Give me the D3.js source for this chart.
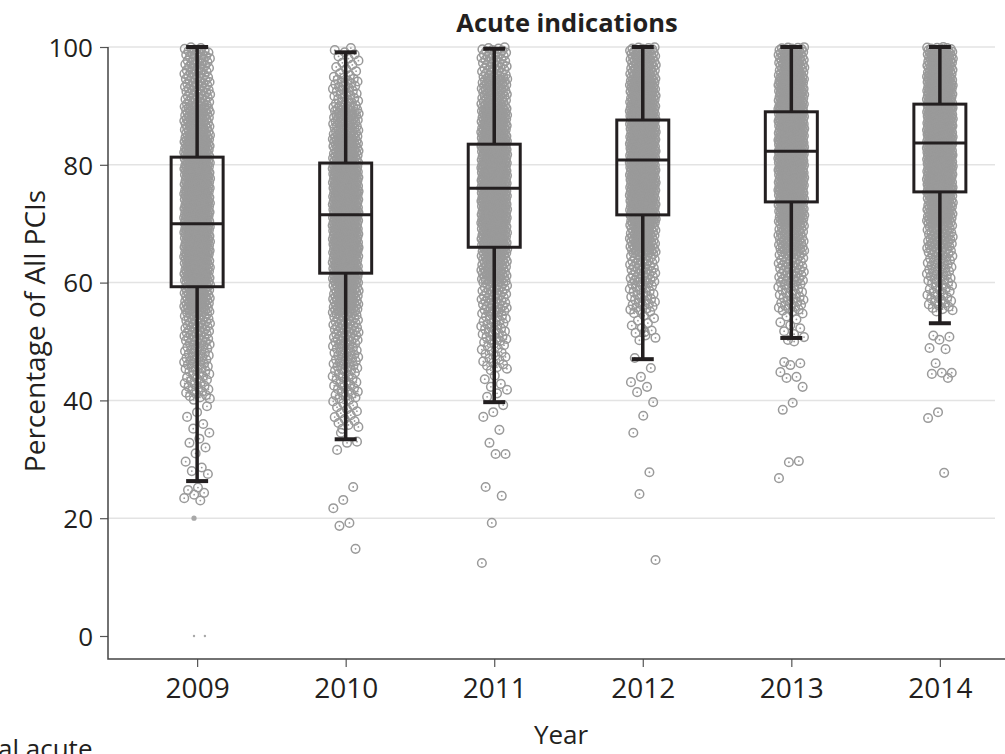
<!DOCTYPE html>
<html>
<head>
<meta charset="utf-8">
<script src="https://cdn.jsdelivr.net/npm/d3@7"></script>
<style>
    body { margin: 0; background: #fff; }
    text { font-family: "Open Sans", sans-serif; fill: #231f20; }
</style>
</head>
<body>
<svg id="chart" width="1005" height="754"></svg>
<script>

const years = [2009, 2010, 2011, 2012, 2013, 2014];
const yTicks = [0, 20, 40, 60, 80, 100];
const gridValues = [20, 40, 60, 80, 100];

// box plot stats per year
const whiskerLow  = [26.3, 33.4, 39.7, 47.0, 50.6, 53.1];
const q1          = [59.3, 61.6, 66.0, 71.5, 73.7, 75.4];
const medians     = [70.0, 71.5, 76.0, 80.8, 82.3, 83.7];
const q3          = [81.3, 80.3, 83.5, 87.6, 89.0, 90.3];
const whiskerHigh = [100, 99.1, 99.7, 100, 100, 100];

// dense part of each cloud: hospitals counted per 5-point band (lower edge of band)
const binEdges = [35, 40, 45, 50, 55, 60, 65, 70, 75, 80, 85, 90, 95];
const bins2009 = [0, 25, 35, 50, 75, 95, 110, 110, 105, 95, 70, 50, 40];
const bins2010 = [15, 25, 35, 50, 75, 100, 120, 125, 115, 85, 60, 32, 14];
const bins2011 = [0, 0, 20, 30, 45, 70, 100, 120, 130, 120, 95, 65, 45];
const bins2012 = [0, 0, 0, 12, 30, 45, 75, 110, 130, 140, 125, 95, 70];
const bins2013 = [0, 0, 0, 10, 30, 45, 65, 100, 130, 145, 135, 105, 80];
const bins2014 = [0, 0, 0, 0, 25, 35, 55, 90, 125, 145, 145, 115, 90];

// sparse points below each cloud, one value per hospital
const tail2009 = [39, 38, 37.2, 36, 35.2, 34.5, 33.5, 32.8, 32, 31, 29.6, 28.6, 28, 27.5, 25.2, 24.8, 24.3, 24, 23.4, 23];
const tail2010 = [34.5, 33, 32.8, 31.6, 25.3, 23.1, 21.7, 19.2, 18.7, 14.8];
const tail2011 = [44.2, 43.6, 42.8, 42.3, 41.8, 41.2, 40.6, 39.2, 38, 37.2, 35, 32.8, 30.9, 30.9, 25.3, 23.8, 19.2, 12.4];
const tail2012 = [51.6, 47.2, 45.5, 44, 43.1, 42.3, 41.4, 39.7, 37.4, 34.5, 27.8, 24.1, 12.9];
const tail2013 = [50, 46.5, 46.3, 46, 44.8, 44, 43.8, 42.3, 39.6, 38.4, 29.7, 29.5, 26.8];
const tail2014 = [51, 50.8, 50.3, 48.9, 48.7, 46.3, 44.7, 44.7, 44.5, 43.8, 38, 37, 27.7];

// very small marks (tiny hospitals)
const faint2009 = [20, 0, 0];

const bins = [bins2009, bins2010, bins2011, bins2012, bins2013, bins2014];
const tails = [tail2009, tail2010, tail2011, tail2012, tail2013, tail2014];
const faints = [faint2009, [], [], [], [], []];

const svg = d3.select('#chart');

const left = 108, bottom = 659;

const x = d3.scalePoint()
    .domain(years)
    .range([left, 1029])
    .padding(0.6);

const y = d3.scaleLinear()
    .domain([0, 100])
    .range([636, 47]);

const pointColor = '#9a9a9a';
const ink = '#231f20';

// grid
svg.append('g')
    .selectAll('line')
    .data(gridValues)
    .join('line')
    .attr('x1', left)
    .attr('x2', 995)
    .attr('y1', d => y(d))
    .attr('y2', d => y(d))
    .style('stroke', '#e3e3e3')
    .style('stroke-width', 1.5);

// build the point list: spread each band's count over its band, jitter sideways
const golden = 0.6180339887;
const points = [];
years.forEach(function (yr, i) {
    let idx = 0;
    binEdges.forEach(function (lo, b) {
        const n = bins[i][b];
        for (let k = 0; k < n; ++k) {
            points.push({year: yr, value: lo + 5 * (k + 0.5) / n, j: (idx++ * golden + 0.37) % 1});
        }
    });
    tails[i].forEach(function (v) {
        points.push({year: yr, value: v, j: (idx++ * golden + 0.37) % 1});
    });
});

const jitter = 13;

const dots = svg.append('g');

dots.selectAll('circle.pt')
    .data(points)
    .join('circle')
    .attr('class', 'pt')
    .attr('cx', d => x(d.year) + (d.j - 0.5) * 2 * jitter)
    .attr('cy', d => y(d.value))
    .attr('r', 4.3)
    .style('fill', 'none')
    .style('stroke', pointColor)
    .style('stroke-width', 1.5);

dots.selectAll('circle.ctr')
    .data(points)
    .join('circle')
    .attr('class', 'ctr')
    .attr('cx', d => x(d.year) + (d.j - 0.5) * 2 * jitter)
    .attr('cy', d => y(d.value))
    .attr('r', 0.9)
    .style('fill', pointColor);

const faintPoints = [];
years.forEach(function (yr, i) {
    faints[i].forEach(function (v, k) {
        faintPoints.push({year: yr, value: v, j: k === 2 ? 0.8 : 0.38});
    });
});

dots.selectAll('circle.faint')
    .data(faintPoints)
    .join('circle')
    .attr('class', 'faint')
    .attr('cx', d => x(d.year) + (d.j - 0.5) * 2 * jitter)
    .attr('cy', d => y(d.value))
    .attr('r', d => d.value > 0 ? 2.6 : 1.2)
    .style('fill', '#a8a8a8');

// boxes
const boxW = 52, capW = 22;
const boxes = svg.append('g')
    .selectAll('g')
    .data(years.map((yr, i) => ({year: yr, lo: whiskerLow[i], q1: q1[i], med: medians[i], q3: q3[i], hi: whiskerHigh[i]})))
    .join('g')
    .attr('transform', d => `translate(${x(d.year)},0)`)
    .style('stroke', ink);

boxes.append('line')
    .attr('y1', d => y(d.hi)).attr('y2', d => y(d.q3))
    .style('stroke-width', 3.5);
boxes.append('line')
    .attr('y1', d => y(d.q1)).attr('y2', d => y(d.lo))
    .style('stroke-width', 3.5);
boxes.append('line')
    .attr('x1', -capW / 2).attr('x2', capW / 2)
    .attr('y1', d => y(d.hi)).attr('y2', d => y(d.hi))
    .style('stroke-width', 4);
boxes.append('line')
    .attr('x1', -capW / 2).attr('x2', capW / 2)
    .attr('y1', d => y(d.lo)).attr('y2', d => y(d.lo))
    .style('stroke-width', 4);
boxes.append('rect')
    .attr('x', -boxW / 2)
    .attr('width', boxW)
    .attr('y', d => y(d.q3))
    .attr('height', d => y(d.q1) - y(d.q3))
    .style('fill', 'none')
    .style('stroke-width', 3);
boxes.append('line')
    .attr('x1', -boxW / 2).attr('x2', boxW / 2)
    .attr('y1', d => y(d.med)).attr('y2', d => y(d.med))
    .style('stroke-width', 3);

// axes
const yAxis = svg.append('g')
    .attr('transform', `translate(${left},0)`)
    .call(d3.axisLeft(y).tickValues(yTicks).tickSize(8).tickPadding(7));
yAxis.select('.domain').remove();
yAxis.selectAll('.tick line').style('stroke', '#555').style('stroke-width', 1.2);
yAxis.selectAll('.tick text')
    .style('font-size', '26px')
    .style('fill', ink)
    .attr('dy', '0.36em');

const xAxis = svg.append('g')
    .attr('transform', `translate(0,${bottom})`)
    .call(d3.axisBottom(x).tickSize(8).tickPadding(11));
xAxis.select('.domain').remove();
xAxis.selectAll('.tick line').style('stroke', '#555').style('stroke-width', 1.2);
xAxis.selectAll('.tick text')
    .style('font-size', '28px')
    .style('fill', ink);

svg.append('path')
    .attr('d', `M${left},${y(100)}V${bottom}H1005`)
    .style('fill', 'none')
    .style('stroke', '#444')
    .style('stroke-width', 1.5);

// titles
svg.append('text')
    .attr('x', 567)
    .attr('y', 32)
    .attr('text-anchor', 'middle')
    .style('font-size', '25.5px')
    .style('font-weight', 'bold')
    .text('Acute indications');

svg.append('text')
    .attr('transform', `translate(45,331) rotate(-90)`)
    .attr('text-anchor', 'middle')
    .style('font-size', '28px')
    .text('Percentage of All PCIs');

svg.append('text')
    .attr('x', 561)
    .attr('y', 744)
    .attr('text-anchor', 'middle')
    .style('font-size', '26px')
    .text('Year');

svg.append('text')
    .attr('x', -2)
    .attr('y', 758)
    .style('font-size', '26px')
    .text('al acute');

</script>
</body>
</html>
